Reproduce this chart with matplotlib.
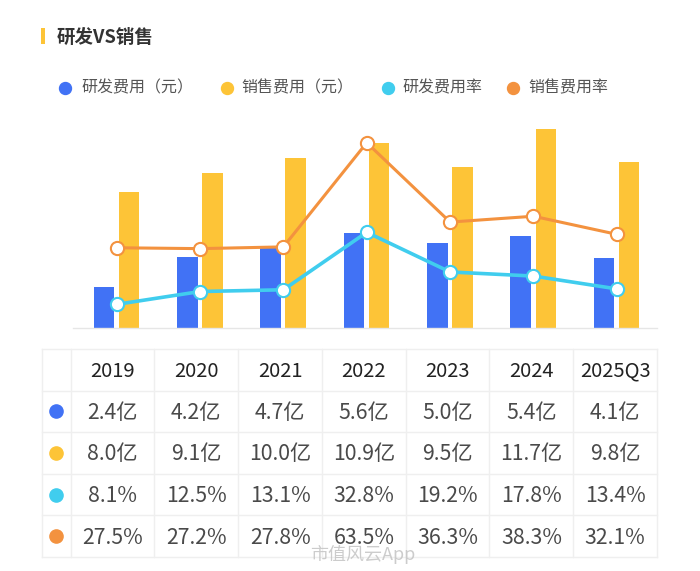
import numpy as np
import matplotlib
matplotlib.use('Agg')
import matplotlib.pyplot as plt
from matplotlib.patches import Rectangle

plt.rcParams['font.family'] = ['Noto Sans CJK SC', 'DejaVu Sans']

# data
years = ['2019', '2020', '2021', '2022', '2023', '2024', '2025Q3']
rd_fee = [2.4, 4.2, 4.7, 5.6, 5.0, 5.4, 4.1]          # 亿元
sale_fee = [8.0, 9.1, 10.0, 10.9, 9.5, 11.7, 9.8]     # 亿元
rd_rate = [8.1, 12.5, 13.1, 32.8, 19.2, 17.8, 13.4]   # %
sale_rate = [27.5, 27.2, 27.8, 63.5, 36.3, 38.3, 32.1]
series_names = ['研发费用（元）', '销售费用（元）', '研发费用率', '销售费用率']

BLUE = '#4172F5'
YELLOW = '#FDC437'
CYAN = '#40CDEE'
ORANGE = '#F3923F'
colors = [BLUE, YELLOW, CYAN, ORANGE]

W, H = 700, 571


def px_rect(l, t, r, b):
    return [l / W, 1 - b / H, (r - l) / W, (b - t) / H]


fig = plt.figure(figsize=(W / 100, H / 100), dpi=100)

# ---- chart ----
ax = fig.add_axes(px_rect(73, 118, 657, 328))
ax2 = ax.twinx()
x = np.arange(len(years))
ax.bar(x - 0.152, rd_fee, width=0.247, color=BLUE, zorder=2)
ax.bar(x + 0.148, sale_fee, width=0.247, color=YELLOW, zorder=2)
ax.set_xlim(-0.524, 6.482)
ax.set_ylim(0, 210 / 16.98)
ax2.set_ylim(0, 210 / 2.918)

ax2.plot(x, sale_rate, '-o', color=ORANGE, lw=2.2, ms=9.5, mfc='white',
         mec=ORANGE, mew=1.5, clip_on=False, zorder=3)
ax2.plot(x, rd_rate, '-o', color=CYAN, lw=2.6, ms=9.5, mfc='white',
         mec=CYAN, mew=1.5, clip_on=False, zorder=3)

for a in (ax, ax2):
    for s in a.spines.values():
        s.set_visible(False)
    a.set_xticks([])
    a.set_yticks([])
ax.spines['bottom'].set_visible(True)
ax.spines['bottom'].set_color('#e6e6e6')
ax.spines['bottom'].set_linewidth(1)

# ---- overlay: title, legend, table ----
ov = fig.add_axes([0, 0, 1, 1])
ov.set_xlim(0, W)
ov.set_ylim(H, 0)
ov.axis('off')

ov.add_patch(Rectangle((41, 28), 4, 16, color=YELLOW, lw=0))
ov.text(57, 37, '研发VS销售', fontsize=13.3, fontweight='bold', color='#333333', va='center')

leg_dot_x = [65, 227, 388, 513]
leg_txt_x = [81, 241, 402, 528]
for dx, tx, c, name in zip(leg_dot_x, leg_txt_x, colors, series_names):
    ov.plot(dx, 87.5, 'o', ms=8.6, color=c)
    ov.text(tx, 88, name, fontsize=11.5, color='#555555', va='center')

# table grid
t_left, t_first, t_right = 41.7, 70.7, 657
t_top, row_h = 349, 41.6
n_rows = 5
col_w = (t_right - t_first) / len(years)
line_c = '#efefef'
col_edges = [t_left, t_first] + [t_first + col_w * (i + 1) for i in range(len(years))]
row_edges = [t_top + row_h * i for i in range(n_rows + 1)]
for cx in col_edges:
    ov.plot([cx, cx], [row_edges[0], row_edges[-1]], color=line_c, lw=1)
for ry in row_edges:
    ov.plot([t_left, t_right], [ry, ry], color=line_c, lw=1)

col_cx = [t_first + col_w * (i + 0.5) for i in range(len(years))]
row_cy = [t_top + row_h * (i + 0.5) + 1.5 for i in range(n_rows)]

for cx, yr in zip(col_cx, years):
    ov.text(cx, row_cy[0], yr, fontsize=14.5, fontweight='normal', color='#222222',
            ha='center', va='center')

rows = [[f'{v:.1f}亿' for v in rd_fee],
        [f'{v:.1f}亿' for v in sale_fee],
        [f'{v:.1f}%' for v in rd_rate],
        [f'{v:.1f}%' for v in sale_rate]]
for r, (vals, c) in enumerate(zip(rows, colors)):
    cy = row_cy[r + 1]
    ov.plot(56, cy - 1.5, 'o', ms=9.5, color=c)
    for cx, s in zip(col_cx, vals):
        ov.text(cx, cy, s, fontsize=15.3, color='#4a4a4a', ha='center', va='center')

# watermark
ov.text(310, 555, '市值风云App', fontsize=13, color='#c4c4c4', alpha=0.85,
        ha='left', va='center')

fig.savefig('out.png', dpi=100)
